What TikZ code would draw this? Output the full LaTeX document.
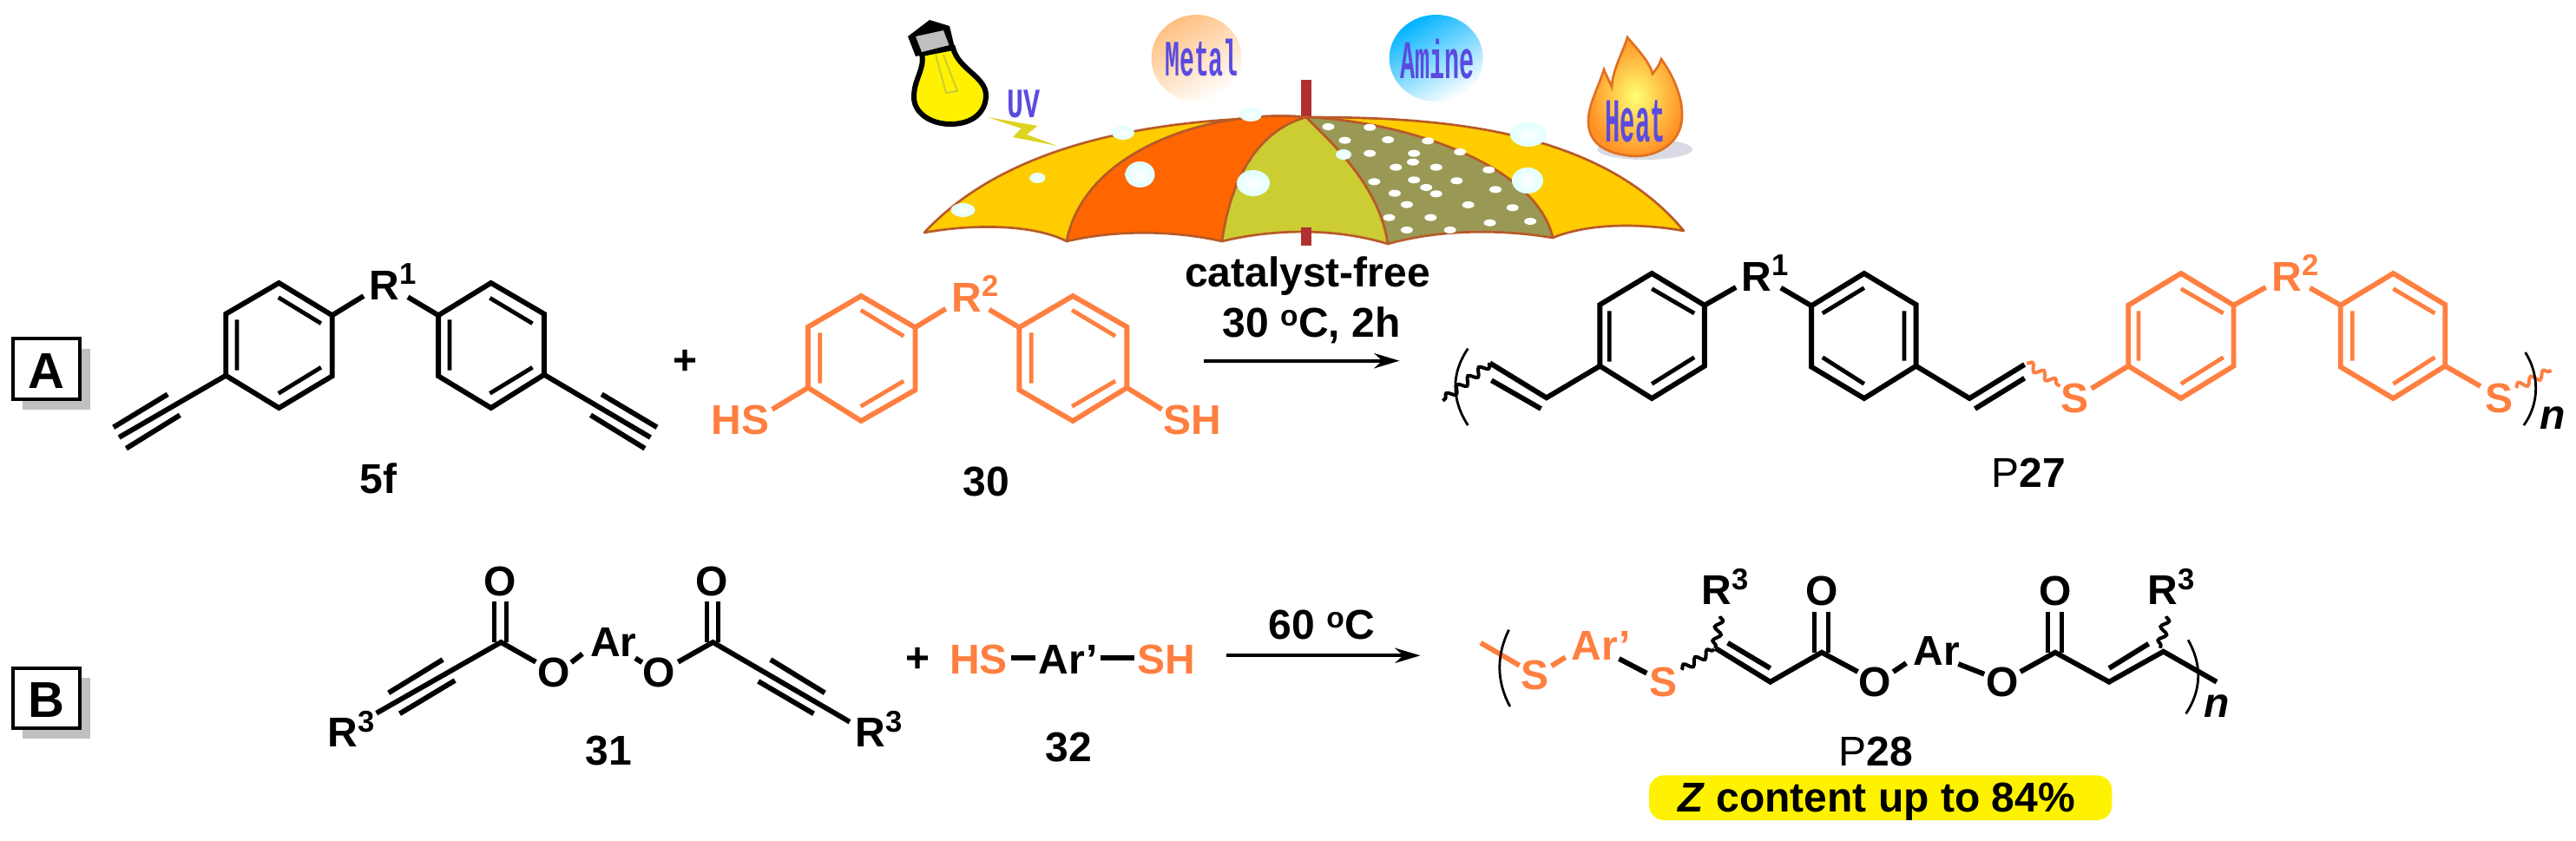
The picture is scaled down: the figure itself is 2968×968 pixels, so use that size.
\documentclass[tikz,border=0pt]{standalone}
\usepackage{fontspec}
\setmainfont{Liberation Sans}
\newfontfamily\tagfont{Liberation Mono}
\usetikzlibrary{arrows.meta,decorations.pathmorphing}

\definecolor{thiolorange}{RGB}{255,127,64}
\definecolor{boxshadow}{RGB}{192,192,192}
\definecolor{panelyellow}{RGB}{255,204,0}
\definecolor{panelorange}{RGB}{255,102,0}
\definecolor{panelolive}{RGB}{204,204,51}
\definecolor{paneldark}{RGB}{153,153,85}
\definecolor{canopyline}{RGB}{184,90,40}
\definecolor{polered}{RGB}{176,48,48}
\definecolor{tagblue}{RGB}{90,75,224}
\definecolor{flameline}{RGB}{224,112,32}

\newcommand{\chemfont}{\fontsize{36}{38}\selectfont\bfseries}
\newcommand{\boxfont}{\fontsize{43.5}{45}\selectfont\bfseries}
\newcommand{\supnum}[1]{\raisebox{13.2pt}{\fontsize{26}{26}\selectfont #1}}

\tikzset{every picture/.style={line width=0.75pt},
  bond/.style={line width=4.4pt},
  thin bond/.style={line width=3.6pt},
  thiol/.style={draw=thiolorange},
  hook/.style={line width=2.1pt},
  wavy/.style={line width=3pt,decorate,decoration={snake,amplitude=3.2pt,segment length=12pt}},
  rxn/.style={line width=3pt,-{Stealth[length=22pt,width=13pt]}},
  chemlabel/.style={anchor=base,inner sep=0pt,font=\chemfont},
  rlabel/.style={anchor=base west,inner sep=0pt,font=\chemfont},
  boxlabel/.style={draw=black,line width=3.4pt,fill=white},
  canopy/.style={draw=canopyline,line width=2pt,line join=round},
  spot/.style={fill=white,x radius=7,y radius=4},
  drop/.style={inner color=white,outer color=cyan!12},
  tag/.style={anchor=base,inner sep=0pt,text=tagblue}}

\begin{document}
\begin{tikzpicture}[x=0.75pt,y=0.75pt,yscale=-1,xscale=1]
\useasboundingbox (0,0) rectangle (2968,968);

%Shape: Pole top
\fill [polered] (1498.5,92) rectangle (1511,137);
%Shape: Panels
\draw [canopy,fill=panelyellow] (1505,135) .. controls (1360,135) and (1170,155) .. (1065,268) .. controls (1120,258) and (1190,258) .. (1229,278) .. controls (1250,170) and (1400,125) .. (1505,135) -- cycle ;
\draw [canopy,fill=panelorange] (1505,135) .. controls (1400,125) and (1250,170) .. (1229,278) .. controls (1285,265) and (1350,265) .. (1408,278) .. controls (1418,205) and (1450,150) .. (1505,135) -- cycle ;
\draw [canopy,fill=panelyellow] (1505,135) .. controls (1650,135) and (1840,145) .. (1940,266) .. controls (1890,257) and (1830,257) .. (1789,274) .. controls (1770,190) and (1620,140) .. (1505,135) -- cycle ;
\draw [canopy,fill=panelolive] (1505,135) .. controls (1450,150) and (1418,205) .. (1408,278) .. controls (1470,263) and (1540,263) .. (1599,281) .. controls (1590,215) and (1535,165) .. (1505,135) -- cycle ;
\draw [canopy,fill=paneldark] (1505,135) .. controls (1535,165) and (1590,215) .. (1599,281) .. controls (1660,264) and (1730,264) .. (1789,274) .. controls (1770,190) and (1620,140) .. (1505,135) -- cycle ;
%Shape: Pole bottom
\fill [polered] (1498.5,262) rectangle (1511,283);
%Shape: Spots
\fill [spot] (1530.4,146) circle[] (1578.2,146.7) circle[] (1549.5,161.7) circle[] (1599.2,161) circle[] (1645.2,162.3) circle[] (1578.2,176.7) circle[] (1629.2,176.7) circle[] (1628,186.7) circle[] (1682.1,175) circle[] (1608.2,192.7) circle[] (1654.7,192.7) circle[] (1715.3,195.7) circle[] (1583.3,209.3) circle[] (1629.2,207.3) circle[] (1678.3,208.3) circle[] (1643.2,216) circle[] (1654.7,223.3) circle[] (1723,218.3) circle[] (1606.9,222.7) circle[] (1620.9,235.7) circle[] (1691.7,236) circle[] (1742.7,239.3) circle[] (1648.3,250.7) circle[] (1600.5,250.7) circle[] (1716.6,256.7) circle[] (1763.1,255) circle[] (1620.9,265) circle[] (1670.7,265) circle[] ;
%Shape: Drops
\shade [drop] (1294,153) ellipse [x radius=13, y radius=8];
\shade [drop] (1441,132) ellipse [x radius=13, y radius=8];
\shade [drop] (1195.5,205) ellipse [x radius=9, y radius=6];
\shade [drop] (1109.5,242) ellipse [x radius=14, y radius=8];
\shade [drop] (1313.5,201) ellipse [x radius=17, y radius=15];
\shade [drop] (1444,211) ellipse [x radius=19, y radius=15];
\shade [drop] (1548,178) ellipse [x radius=9, y radius=6];
\shade [drop] (1760,208) ellipse [x radius=18, y radius=15];
\shade [drop] (1761,155) ellipse [x radius=21, y radius=14];

%Shape: Bulb
\draw [line width=4.5pt,fill=yellow] (1062,62) .. controls (1066,80) and (1053,90) .. (1053,112) .. controls (1053,130) and (1072,143) .. (1095,143) .. controls (1122,143) and (1136,128) .. (1136,110) .. controls (1136,88) and (1104,80) .. (1098,55) -- cycle ;
\draw [line width=1.5pt,draw=panelolive] (1078,63) -- (1090,107) -- (1103,105) -- (1087,63) ;
\fill (1046,42) -- (1071,23) -- (1094,30) -- (1100,55) -- (1055,65) -- cycle ;
\fill [gray!50] (1055,42) -- (1087,35) -- (1093.5,52) -- (1062,60) -- cycle ;
%Shape: Bolt
\fill [yellow!85!black] (1138,135) -- (1195.5,145) -- (1183,155) -- (1218,168) -- (1167,158) -- (1176.5,148) -- cycle ;
%Shape: Metal and Amine balls
\shade [left color=orange!50,right color=white,shading angle=30] (1378.6,67) ellipse [x radius=52, y radius=50];
\shade [left color=cyan!70!blue,right color=white,shading angle=30] (1654.7,67) ellipse [x radius=54, y radius=50];
%Shape: Flame
\fill [blue!15!gray!25] (1895,172) ellipse [x radius=55, y radius=12];
\draw [draw=flameline,line width=2pt,inner color=yellow!55!white,outer color=orange!85] (1884,180) .. controls (1850,178) and (1830,165) .. (1830,140) .. controls (1830,120) and (1842,100) .. (1848,80) .. controls (1852,90) and (1855,95) .. (1857,100) .. controls (1858,80) and (1870,60) .. (1875,43) .. controls (1885,55) and (1900,70) .. (1904,85) .. controls (1908,80) and (1912,75) .. (1914,68) .. controls (1930,90) and (1939,115) .. (1938,135) .. controls (1937,165) and (1910,180) .. (1884,180) -- cycle ;

%Shape: Box A
\fill [boxshadow] (26,402) rectangle (104,472);
\draw [boxlabel] (15,390) rectangle (92,460);
%Shape: Box B
\fill [boxshadow] (26,781) rectangle (104,851);
\draw [boxlabel] (15,770) rectangle (92,839);

%Shape: Ring 5f left
\draw [bond] (321.4,326) -- (382.7,363.3) -- (382.7,433.3) -- (321.4,470) -- (260.2,432.7) -- (260.2,361.7) -- cycle ;
\draw [thin bond] (320.8,342.7) -- (369.9,372.7) (273,368.3) -- (273,426.7) (369.9,423.3) -- (320.8,453.3) ;
%Shape: Ring 5f right
\draw [bond] (565.7,326) -- (626.9,361.7) -- (626.9,431.7) -- (565.7,470) -- (505.1,433.3) -- (505.1,363.3) -- cycle ;
\draw [thin bond] (564.4,343.3) -- (613.5,372.7) (517.9,368.3) -- (517.9,426.7) (613.5,423.3) -- (564.4,453.3) ;
%Shape: Bonds 5f
\draw [bond] (382.7,363.3) -- (419,341) (505.1,363.3) -- (470,342.3) ;
\draw [bond] (260.2,432.7) -- (137.1,504) (193.2,454.3) -- (130.7,492.3) (207.3,478.3) -- (145.4,516.7) ;
\draw [bond] (626.9,431.7) -- (749.4,504) (693.2,454.3) -- (757,492.3) (680.5,478.3) -- (743,516.7) ;

%Shape: Rings 30
\draw [bond,thiol] (992.2,341) -- (1054.5,377.3) -- (1054.5,449.3) -- (992.2,485) -- (931,446.7) -- (931,376.7) -- cycle ;
\draw [thin bond,thiol] (991.7,357.3) -- (1041.2,387.3) (944.8,383.3) -- (944.8,441.7) (1041.2,439) -- (991.7,468.3) ;
\draw [bond,thiol] (1236.1,341) -- (1298.4,376.7) -- (1298.4,446.7) -- (1236.1,485) -- (1174.4,449.3) -- (1174.4,377.3) -- cycle ;
\draw [thin bond,thiol] (1235.1,357.3) -- (1285.1,387.3) (1188.2,383.3) -- (1188.2,441.7) (1285.1,439) -- (1235.1,468.3) ;
\draw [bond,thiol] (931,446.7) -- (889.7,471.7) (1054.5,377.3) -- (1089.7,355.7) (1174.4,377.3) -- (1139.7,356.7) (1298.4,446.7) -- (1338.7,471.7) ;

%Arrow A
\coordinate (arrowAstart) at (1387,415.7);
\coordinate (arrowAend) at (1612.5,415.7);
\draw [rxn] (arrowAstart) -- (arrowAend) ;

%Shape: Rings P27 black
\draw [bond] (1903.2,315) -- (1963.9,351.7) -- (1963.9,421.7) -- (1903.2,459) -- (1843.4,421.7) -- (1843.4,351) -- cycle ;
\draw [thin bond] (1903.2,332.7) -- (1952.1,361) (1854.3,358.3) -- (1854.3,416.7) (1952.1,411.7) -- (1903.2,442.3) ;
\draw [bond] (2147.8,315) -- (2207.6,351) -- (2207.6,421.7) -- (2147.8,459) -- (2087.1,422.7) -- (2087.1,352.3) -- cycle ;
\draw [thin bond] (2147.8,331.7) -- (2099.8,361) (2194,358.3) -- (2194,415.7) (2099.8,411.7) -- (2147.8,442.3) ;
\draw [bond] (1963.9,351.7) -- (2000.1,331) (2087.1,352.3) -- (2051.8,331.7) ;
\draw [bond] (1843.4,421.7) -- (1781.8,458.3) -- (1716.6,418.3) (1718.4,438.3) -- (1775.5,471) ;
\draw [bond] (2207.6,421.7) -- (2269.2,459) -- (2332.6,420) (2275.5,471) -- (2332.6,435.7) ;
\draw [wavy] (1716.6,418.3) -- (1662.3,461.7) ;
%Shape: Rings P27 orange
\draw [wavy,thiol] (2335.3,418.3) -- (2373.3,445) ;
\draw [bond,thiol] (2512.8,315) -- (2573.5,351.7) -- (2573.5,421.7) -- (2512.8,459) -- (2452.2,421.7) -- (2452.2,351.7) -- cycle ;
\draw [thin bond,thiol] (2512.8,332.7) -- (2561.7,361) (2463.9,358.3) -- (2463.9,415.7) (2561.7,411.7) -- (2512.8,442.3) ;
\draw [bond,thiol] (2757.4,315) -- (2817.2,351) -- (2817.2,421.7) -- (2757.4,459) -- (2696.7,422.7) -- (2696.7,351.7) -- cycle ;
\draw [thin bond,thiol] (2757.4,332.7) -- (2805.4,361) (2710.3,358.3) -- (2710.3,415.7) (2805.4,411.7) -- (2757.4,442.3) ;
\draw [bond,thiol] (2409.6,447.7) -- (2452.2,421.7) (2573.5,351.7) -- (2610.6,331) (2696.7,351.7) -- (2661.4,331.7) (2817.2,421.7) -- (2857.9,445) ;
\draw [wavy,thiol] (2898.7,446.7) -- (2939.5,426.7) ;
%Shape: Brackets P27
\draw [hook] (1691.3,401.7) .. controls (1672,430) and (1672,460) .. (1691.3,490) ;
\draw [hook] (2909.6,406) .. controls (2926,432) and (2926,465) .. (2907.8,490) ;

%Shape: Monomer 31
\draw [bond] (433.7,821.7) -- (577.2,740) -- (617.3,762.7) (447.7,798.3) -- (510.2,760) (460.5,822.3) -- (524.2,784) ;
\draw [thin bond] (569.5,740) -- (569.5,693.3) (583.5,740) -- (583.5,693.3) ;
\draw [bond] (658.2,763.3) -- (671,753.3) (732,758.3) -- (739.8,763.3) ;
\draw [bond] (781.3,762.7) -- (821.4,740) -- (979,831.7) (887.8,760) -- (950.3,798.3) (873.7,785) -- (937.5,822.3) ;
\draw [thin bond] (814.4,740) -- (814.4,693.3) (827.8,740) -- (827.8,693.3) ;

%Shape: Monomer 32
\draw [bond] (1164.5,758.3) -- (1193.2,758.3) (1267.9,758.3) -- (1307.4,758.3) ;

%Arrow B
\coordinate (arrowBstart) at (1413.3,755.3);
\coordinate (arrowBend) at (1636.5,755.3);
\draw [rxn] (arrowBstart) -- (arrowBend) ;

%Shape: Polymer P28
\draw [bond,thiol] (1706,740.7) -- (1750.7,766.7) (1787.6,767.3) -- (1803.6,757.3) ;
\draw [bond] (1865.4,759) -- (1897.3,775.7) ;
\draw [wavy] (1937.5,771.7) -- (1975,748.3) ;
\draw [wavy] (1981.7,710) -- (1976.3,746.7) ;
\draw [bond] (1976.3,746.7) -- (2039.6,785.7) -- (2098.9,751.7) -- (2140.5,774) (1990.6,740.7) -- (2039.6,770) ;
\draw [thin bond] (2090.7,751.7) -- (2090.7,705) (2106.4,751.7) -- (2106.4,705) ;
\draw [bond] (2181.3,774) -- (2196.3,764) (2256.3,765) -- (2286.2,776.7) ;
\draw [bond] (2327.8,774) -- (2368,751.7) -- (2430,785.7) -- (2492.6,750.7) -- (2554,785.7) (2430,770) -- (2475.6,741.7) ;
\draw [thin bond] (2359.8,751.7) -- (2359.8,705) (2375.5,751.7) -- (2375.5,705) ;
\draw [wavy] (2496,710) -- (2489,746.7) ;
%Shape: Brackets P28
\draw [hook] (1738.5,725.7) .. controls (1724,755) and (1724,785) .. (1739.8,814) ;
\draw [hook] (2521,737.3) .. controls (2537,765) and (2537,795) .. (2518.5,822.3) ;

%Rounded Rect
\fill [yellow,rounded corners=13pt] (1900,893.3) rectangle (2433.4,945) ;

% Text Node
\draw (1179.6,135) node (uvtag) [tag,xscale=0.66,font=\tagfont\bfseries\fontsize{36}{36}\selectfont] {UV};
\draw (1384.5,87) node (metaltag) [tag,xscale=0.48,font=\tagfont\bfseries\fontsize{44}{44}\selectfont] {Metal};
\draw (1656,90) node (aminetag) [tag,xscale=0.455,font=\tagfont\bfseries\fontsize{47}{47}\selectfont] {Amine};
\draw (1884,163) node (heattag) [tag,xscale=0.4,font=\tagfont\bfseries\fontsize{54}{54}\selectfont] {Heat};
% Text Node
\draw (53,447) node (boxA) [anchor=base,inner sep=0pt,font=\boxfont] {A};
\draw (53,826) node (boxB) [anchor=base,inner sep=0pt,font=\boxfont] {B};
% Text Node
\draw (425,345) node (rone) [rlabel] {R\supnum{1}};
\draw (789.6,431.5) node (plusA) [chemlabel] {+};
\draw (436,568) node (cmpdfivef) [chemlabel] {5f};
\draw (852.7,500) node (hsA) [chemlabel,text=thiolorange] {HS};
\draw (1374,500) node (shA) [chemlabel,text=thiolorange] {SH};
\draw (1096,359) node (rtwo) [rlabel,text=thiolorange] {R\supnum{2}};
\draw (1136,571.7) node (cmpdthirty) [chemlabel] {30};
\draw (1506.5,330) node (condA) [chemlabel] {catalyst-free};
\draw (1511,388) node (tempA) [chemlabel] {30 \textsuperscript{o}C, 2h};
% Text Node
\draw (2006,335) node (ronep) [rlabel] {R\supnum{1}};
\draw (2617,335) node (rtwop) [rlabel,text=thiolorange] {R\supnum{2}};
\draw (2390,475) node (sa) [chemlabel,text=thiolorange] {S};
\draw (2879,475) node (sb) [chemlabel,text=thiolorange] {S};
\draw (2941.5,494) node (nA) [chemlabel] {\itshape n};
\draw (2337,561.7) node (polyA) [chemlabel] {{\mdseries P}27};
% Text Node
\draw (377,860.7) node (rthreea) [rlabel] {R\supnum{3}};
\draw (985,860.7) node (rthreeb) [rlabel] {R\supnum{3}};
\draw (576.5,686) node (oa) [chemlabel] {O};
\draw (638,791) node (ob) [chemlabel] {O};
\draw (707,756) node (ara) [chemlabel] {Ar};
\draw (759,791) node (oc) [chemlabel] {O};
\draw (820,686) node (od) [chemlabel] {O};
\draw (701.5,881.7) node (cmpdthirtyone) [chemlabel] {31};
\draw (1057.4,774.5) node (plusB) [chemlabel] {+};
\draw (1127.5,776.7) node (hsB) [chemlabel,text=thiolorange] {HS};
\draw (1231,776.7) node (arb) [chemlabel] {Ar\char39{}};
\draw (1343.5,776.7) node (shB) [chemlabel,text=thiolorange] {SH};
\draw (1231,877.7) node (cmpdthirtytwo) [chemlabel] {32};
\draw (1523,736) node (tempB) [chemlabel] {60 \textsuperscript{o}C};
% Text Node
\draw (1768.5,794.3) node (sc) [chemlabel,text=thiolorange] {S};
\draw (1845,760) node (arc) [chemlabel,text=thiolorange] {Ar\char39{}};
\draw (1916,802.7) node (sd) [chemlabel,text=thiolorange] {S};
\draw (1960,696.7) node (rthreec) [rlabel] {R\supnum{3}};
\draw (2474,696.7) node (rthreed) [rlabel] {R\supnum{3}};
\draw (2099.3,697.3) node (oe) [chemlabel] {O};
\draw (2160,802.3) node (of) [chemlabel] {O};
\draw (2231,766.7) node (ard) [chemlabel] {Ar};
\draw (2307.4,802.3) node (og) [chemlabel] {O};
\draw (2368.3,697.3) node (oh) [chemlabel] {O};
\draw (2554.6,826.7) node (nB) [chemlabel] {\itshape n};
\draw (2161,882.3) node (polyB) [chemlabel] {{\mdseries P}28};
\draw (2162,935) node (zcontent) [chemlabel] {\textit{Z} content up to 84\%};

\end{tikzpicture}
\end{document}
